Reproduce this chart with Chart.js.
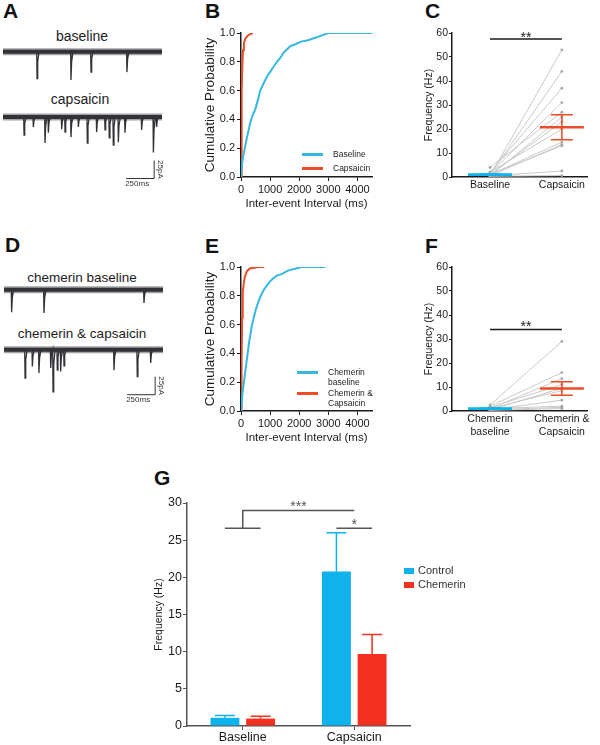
<!DOCTYPE html>
<html>
<head>
<meta charset="utf-8">
<script src="https://cdn.jsdelivr.net/npm/chart.js@4.4.1/dist/chart.umd.min.js"></script>
<style>
body { margin: 0; background: #fff; font-family: "Liberation Sans", Arial, Helvetica, sans-serif; }
#page { position: relative; width: 600px; height: 745px; overflow: hidden; background: #fff; }
canvas { position: absolute; }
.t { position: absolute; white-space: nowrap; color: #1c1c1c; line-height: 1; }
.lt { position: absolute; font-weight: bold; font-size: 21px; line-height: 1; color: #111; }
.lg { position: absolute; height: 2.5px; width: 21px; }
.sw { position: absolute; width: 10px; height: 6px; }
</style>
</head>
<body>
<div id="page">
  <div class="lt" style="left:3px;top:0px">A</div>
  <div class="lt" style="left:205px;top:0px">B</div>
  <div class="lt" style="left:425px;top:0px">C</div>
  <div class="lt" style="left:5px;top:234px">D</div>
  <div class="lt" style="left:205px;top:235px">E</div>
  <div class="lt" style="left:425px;top:235px">F</div>
  <div class="lt" style="left:154px;top:467px">G</div>

  <div class="t" style="left:82px;top:29px;font-size:14px;transform:translateX(-50%)">baseline</div>
  <div class="t" style="left:80px;top:92px;font-size:14px;transform:translateX(-50%)">capsaicin</div>
  <div class="t" style="left:82px;top:271px;font-size:13.5px;transform:translateX(-50%)">chemerin baseline</div>
  <div class="t" style="left:82px;top:327px;font-size:13.5px;transform:translateX(-50%)">chemerin &amp; capsaicin</div>

  <canvas id="traceA1" width="170" height="47" style="left:3px;top:41px"></canvas>
  <canvas id="traceA2" width="170" height="87" style="left:3px;top:106px"></canvas>
  <canvas id="traceD1" width="170" height="47" style="left:4px;top:279px"></canvas>
  <canvas id="traceD2" width="170" height="76" style="left:4px;top:339px"></canvas>

  <canvas id="chartB" width="182" height="195" style="left:198px;top:20px"></canvas>
  <canvas id="chartE" width="182" height="195" style="left:198px;top:254px"></canvas>
  <canvas id="chartC" width="176" height="175" style="left:419px;top:20px"></canvas>
  <canvas id="chartF" width="176" height="189" style="left:419px;top:254px"></canvas>
  <canvas id="chartG" width="265" height="255" style="left:149px;top:490px"></canvas>

  <div class="lg" style="left:302px;top:153px;background:#35b8e0"></div>
  <div class="t" style="left:333px;top:150px;font-size:8.5px">Baseline</div>
  <div class="lg" style="left:302px;top:167px;background:#ee4c27"></div>
  <div class="t" style="left:333px;top:164px;font-size:8.5px">Capsaicin</div>

  <div class="lg" style="left:297px;top:371px;background:#35b8e0"></div>
  <div class="t" style="left:328px;top:368px;font-size:8.5px">Chemerin</div>
  <div class="t" style="left:328px;top:378px;font-size:8.5px">baseline</div>
  <div class="lg" style="left:297px;top:392px;background:#ee4c27"></div>
  <div class="t" style="left:328px;top:389px;font-size:8.5px">Chemerin &amp;</div>
  <div class="t" style="left:328px;top:399px;font-size:8.5px">Capsaicin</div>

  <div class="sw" style="left:404px;top:568px;background:#0fb2ea"></div>
  <div class="t" style="left:418px;top:565px;font-size:11px;color:#333">Control</div>
  <div class="sw" style="left:404px;top:582px;background:#f4301e"></div>
  <div class="t" style="left:418px;top:579px;font-size:11px;color:#333">Chemerin</div>
</div>
<script>
// traces: event time (ms) and amplitude (pA)
const traceEnd = 1420
const baseEventsT = [304, 607, 786, 1107]
const baseEventsAmp = [37, 39, 28, 28]
const capEventsT = [188, 271, 375, 405, 524, 554, 607, 673, 753, 836, 911, 949, 985, 1030, 1089, 1238, 1343, 1372]
const capEventsAmp = [25, 14, 36, 22, 17, 21, 28, 14, 36, 21, 18, 29, 39, 35, 22, 18, 49, 14]
const chemBaseEventsT = [68, 357, 1250]
const chemBaseEventsAmp = [31, 32, 18]
const chemCapEventsT = [188, 253, 312, 417, 438, 476, 506, 536, 982, 1190, 1310]
const chemCapEventsAmp = [39, 23, 32, 25, 58, 28, 30, 22, 28, 37, 18]

// B / E cumulative probability
const intervalTicks = [0, 1000, 2000, 3000, 4000]
const probTicks = [0, 0.2, 0.4, 0.6, 0.8, 1.0]
const bBaseMs = [0, 40, 80, 150, 200, 310, 400, 490, 560, 660, 800, 900, 1000, 1100, 1200, 1360, 1450, 1550, 1700, 1850, 2060, 2300, 2600, 3000, 3500, 4500]
const bBaseP = [0, 0.1, 0.15, 0.22, 0.27, 0.37, 0.43, 0.47, 0.52, 0.6, 0.66, 0.7, 0.73, 0.76, 0.79, 0.83, 0.86, 0.88, 0.91, 0.92, 0.94, 0.95, 0.97, 1.0, 1.0, 1.0]
const bCapMs = [0, 15, 30, 50, 70, 100, 150, 220, 300, 400]
const bCapP = [0, 0.3, 0.6, 0.8, 0.88, 0.93, 0.96, 0.98, 0.99, 1.0]
const eBaseMs = [0, 50, 100, 195, 280, 370, 500, 655, 780, 885, 1000, 1100, 1230, 1400, 1560, 1690, 1900, 2060, 2300, 2900]
const eBaseP = [0, 0.12, 0.2, 0.35, 0.48, 0.59, 0.7, 0.79, 0.84, 0.87, 0.9, 0.92, 0.94, 0.95, 0.97, 0.98, 0.99, 1.0, 1.0, 1.0]
const eCapMs = [0, 20, 40, 60, 90, 130, 200, 300, 450, 600, 800]
const eCapP = [0, 0.35, 0.65, 0.82, 0.88, 0.93, 0.97, 0.99, 0.995, 1.0, 1.0]

// C / F paired frequencies (Hz)
const freqTicks = [0, 10, 20, 30, 40, 50, 60]
const cCats = ['Baseline', 'Capsaicin']
const cBase = [0.5, 1, 2, 1.5, 4, 0.5, 1, 2, 1, 0.5, 1, 0.5, 0.3]
const cCap = [53, 44, 37, 31, 27, 25, 23, 20, 14.5, 13.5, 13, 2.5, 0.6]
const cMean = [1.0, 20.7]
const cSem = [0.3, 5.2]
const fCats = [['Chemerin', 'baseline'], ['Chemerin &', 'Capsaicin']]
const fBase = [2.5, 2, 1, 1.5, 0.5, 1, 0.5, 1, 0.5, 0.3]
const fCap = [29, 16, 13.5, 11, 9.5, 8.5, 4.5, 2, 1.5, 1]
const fMean = [1.0, 9.4]
const fSem = [0.3, 2.8]

// G means and SEM (Hz)
const gCats = ['Baseline', 'Capsaicin']
const gControl = [1.1, 20.8]
const gControlErr = [0.3, 5.2]
const gChemerin = [1.0, 9.7]
const gChemerinErr = [0.3, 2.6]
const gTicks = [0, 5, 10, 15, 20, 25, 30]

const ink = '#1a1a1a'
const traceInk = '#303236'
const blue = '#35b8e0'
const red = '#ee4c27'
const gBlue = '#0fb2ea'
const gRed = '#f4301e'

Chart.defaults.font.family = '"Liberation Sans", Arial, Helvetica, sans-serif'
Chart.defaults.color = ink
Chart.defaults.animation = false
Chart.defaults.responsive = false
Chart.defaults.devicePixelRatio = 1
Chart.defaults.plugins.legend.display = false
Chart.defaults.plugins.tooltip.enabled = false

const tickList = list => s => { s.ticks = list.map(v => ({value: v})) }
const fixWidth = w => s => { s.width = w }
const fixHeight = h => s => { s.height = h }

// spike shape for each event: fast rise, slower decay
function tracePoints(ts, amps) {
    const pts = [{x: 0, y: 0}]
    ts.forEach((t, i) => {
        pts.push({x: t - 3, y: 0}, {x: t, y: -amps[i]}, {x: t + 6, y: -amps[i] * 0.35}, {x: t + 18, y: 0})
    })
    pts.push({x: traceEnd, y: 0})
    return pts
}

const scaleBarPlugin = {
    id: 'scaleBar',
    afterDatasetsDraw(chart, args, o) {
        if (!o.show) return
        const {ctx, scales: {x, y}} = chart
        const xr = x.getPixelForValue(o.t), xl = x.getPixelForValue(o.t - o.ms)
        const yb = y.getPixelForValue(o.base), yt = y.getPixelForValue(o.base + o.pa)
        ctx.save()
        ctx.strokeStyle = '#333'
        ctx.lineWidth = 1
        ctx.beginPath()
        ctx.moveTo(xl, yb); ctx.lineTo(xr, yb); ctx.lineTo(xr, yt)
        ctx.stroke()
        ctx.fillStyle = '#333'
        ctx.font = '8px "Liberation Sans", Arial, sans-serif'
        ctx.textAlign = 'center'
        ctx.textBaseline = 'top'
        ctx.fillText(o.ms + 'ms', (xl + xr) / 2 - 3, yb + 1)
        ctx.translate(xr + 2, (yb + yt) / 2)
        ctx.rotate(Math.PI / 2)
        ctx.textBaseline = 'bottom'
        ctx.fillText(o.pa + 'pA', 0, 0)
        ctx.restore()
    }
}

function traceChart(id, ts, amps, yMin, bar) {
    const flat = [{x: 0, y: 0}, {x: traceEnd, y: 0}]
    return new Chart(document.getElementById(id), {
        type: 'line',
        data: {datasets: [
            {data: flat, borderColor: 'rgba(48,50,54,0.45)', borderWidth: 7, pointRadius: 0},
            {data: flat, borderColor: traceInk, borderWidth: 4, pointRadius: 0},
            {data: tracePoints(ts, amps), borderColor: traceInk, borderWidth: 1.3, pointRadius: 0}
        ]},
        options: {
            layout: {padding: {right: 11}},
            scales: {
                x: {type: 'linear', min: 0, max: traceEnd, display: false},
                y: {min: yMin, max: 15, display: false}
            },
            plugins: {scaleBar: bar || {show: false}}
        },
        plugins: [scaleBarPlugin]
    })
}

traceChart('traceA1', baseEventsT, baseEventsAmp, -50)
traceChart('traceA2', capEventsT, capEventsAmp, -105, {show: true, t: 1350, ms: 250, base: -85, pa: 25})
traceChart('traceD1', chemBaseEventsT, chemBaseEventsAmp, -50)
traceChart('traceD2', chemCapEventsT, chemCapEventsAmp, -90, {show: true, t: 1350, ms: 250, base: -62, pa: 25})

function cumChart(id, baseMs, baseP, capMs, capP) {
    return new Chart(document.getElementById(id), {
        type: 'line',
        data: {datasets: [
            {data: baseMs.map((x, i) => ({x, y: baseP[i]})), borderColor: blue, borderWidth: 2, pointRadius: 0},
            {data: capMs.map((x, i) => ({x, y: capP[i]})), borderColor: red, borderWidth: 2, pointRadius: 0}
        ]},
        options: {
            layout: {padding: {top: 13, right: 8}},
            scales: {
                x: {
                    type: 'linear', min: 0, max: 4500,
                    afterBuildTicks: tickList(intervalTicks), afterFit: fixHeight(38),
                    grid: {drawOnChartArea: false, tickLength: 4, color: ink},
                    border: {color: ink, width: 1.5},
                    ticks: {font: {size: 11}, padding: 2, maxRotation: 0, color: ink, callback: v => String(v)},
                    title: {display: true, text: 'Inter-event Interval (ms)', font: {size: 11.5}, color: ink, padding: {top: 0, bottom: 4}}
                },
                y: {
                    min: 0, max: 1,
                    afterBuildTicks: tickList(probTicks), afterFit: fixWidth(43),
                    grid: {drawOnChartArea: false, tickLength: 4, color: ink},
                    border: {color: ink, width: 1.5},
                    ticks: {font: {size: 11}, padding: 2, color: ink, callback: v => v.toFixed(1)},
                    title: {display: true, text: 'Cumulative Probability', font: {size: 13.5}, color: ink, padding: {top: 4, bottom: 0}}
                }
            }
        }
    })
}

cumChart('chartB', bBaseMs, bBaseP, bCapMs, bCapP)
cumChart('chartE', eBaseMs, eBaseP, eCapMs, eCapP)

const meanSemPlugin = {
    id: 'meanSem',
    afterDatasetsDraw(chart, args, o) {
        const {ctx, scales: {x, y}} = chart
        ctx.save()
        o.means.forEach((m, i) => {
            const cx = x.getPixelForValue(i)
            const ym = y.getPixelForValue(m)
            const yl = y.getPixelForValue(m - o.sems[i]), yh = y.getPixelForValue(m + o.sems[i])
            ctx.strokeStyle = o.colors[i]
            ctx.lineWidth = 1.5
            ctx.beginPath()
            ctx.moveTo(cx, yl); ctx.lineTo(cx, yh)
            ctx.moveTo(cx - 11, yl); ctx.lineTo(cx + 11, yl)
            ctx.moveTo(cx - 11, yh); ctx.lineTo(cx + 11, yh)
            ctx.stroke()
            ctx.lineWidth = 2.6
            ctx.beginPath()
            ctx.moveTo(cx - 22, ym); ctx.lineTo(cx + 22, ym)
            ctx.stroke()
        })
        // significance line
        const s = o.sig
        const x0 = x.getPixelForValue(s.from), x1 = x.getPixelForValue(s.to), ys = y.getPixelForValue(s.y)
        ctx.strokeStyle = ink
        ctx.lineWidth = 1.5
        ctx.beginPath()
        ctx.moveTo(x0, ys); ctx.lineTo(x1, ys)
        ctx.stroke()
        ctx.fillStyle = ink
        ctx.font = '14px "Liberation Sans", Arial, sans-serif'
        ctx.textAlign = 'center'
        ctx.textBaseline = 'alphabetic'
        ctx.fillText(s.text, (x0 + x1) / 2, ys + s.lift)
        ctx.restore()
    }
}

function pairedChart(id, cats, base, cap, mean, sem, sig, xHeight) {
    return new Chart(document.getElementById(id), {
        type: 'line',
        data: {datasets: base.map((b, i) => ({
            data: [{x: 0, y: b}, {x: 1, y: cap[i]}],
            borderColor: '#c9c9c9', borderWidth: 1,
            pointRadius: 1.4, pointBackgroundColor: '#a8a8a8', pointBorderWidth: 0
        }))},
        options: {
            layout: {padding: {top: 13, right: 8}},
            scales: {
                x: {
                    type: 'linear', min: -0.53, max: 1.35,
                    afterBuildTicks: tickList([0, 1]), afterFit: fixHeight(xHeight),
                    grid: {display: false, drawTicks: false, tickLength: 0},
                    border: {color: ink, width: 1.5},
                    ticks: {font: {size: 10.5}, padding: 2, maxRotation: 0, color: ink, callback: v => cats[v]}
                },
                y: {
                    min: 0, max: 60,
                    afterBuildTicks: tickList(freqTicks), afterFit: fixWidth(33),
                    grid: {drawOnChartArea: false, tickLength: 3, color: ink},
                    border: {color: ink, width: 1.5},
                    ticks: {font: {size: 10.5}, padding: 1, color: ink},
                    title: {display: true, text: 'Frequency (Hz)', font: {size: 10.5}, color: ink, padding: {top: 4, bottom: 0}}
                }
            },
            plugins: {meanSem: {means: mean, sems: sem, colors: [gBlue, red], sig: sig}}
        },
        plugins: [meanSemPlugin]
    })
}

pairedChart('chartC', cCats, cBase, cCap, cMean, cSem, {from: 0, to: 1, y: 57.5, text: '**', lift: 3}, 18)
pairedChart('chartF', fCats, fBase, fCap, fMean, fSem, {from: 0, to: 1, y: 34, text: '**', lift: 2}, 32)

const errBarPlugin = {
    id: 'errBars',
    afterDatasetsDraw(chart) {
        const {ctx, scales: {y}} = chart
        ctx.save()
        ctx.lineWidth = 1.5
        chart.data.datasets.forEach((ds, d) => {
            const meta = chart.getDatasetMeta(d)
            ctx.strokeStyle = ds.backgroundColor
            meta.data.forEach((bar, i) => {
                const top = y.getPixelForValue(ds.data[i] + ds.err[i])
                ctx.beginPath()
                ctx.moveTo(bar.x, bar.y); ctx.lineTo(bar.x, top)
                ctx.moveTo(bar.x - 10, top); ctx.lineTo(bar.x + 10, top)
                ctx.stroke()
            })
        })
        ctx.restore()
    }
}

const bracketPlugin = {
    id: 'brackets',
    afterDatasetsDraw(chart, args, o) {
        const {ctx, scales: {x, y}} = chart
        const m0 = chart.getDatasetMeta(0).data, m1 = chart.getDatasetMeta(1).data
        const yLow = y.getPixelForValue(o.low), yHigh = y.getPixelForValue(o.high)
        const g0 = x.getPixelForValue(0), g1 = x.getPixelForValue(1)
        ctx.save()
        ctx.strokeStyle = '#555'
        ctx.fillStyle = '#555'
        ctx.lineWidth = 1.5
        ctx.beginPath()
        ctx.moveTo(m0[0].x, yLow); ctx.lineTo(m1[0].x, yLow)
        ctx.moveTo(g0, yLow); ctx.lineTo(g0, yHigh); ctx.lineTo(g1, yHigh)
        ctx.moveTo(m0[1].x, yLow); ctx.lineTo(m1[1].x, yLow)
        ctx.stroke()
        ctx.font = '14px "Liberation Sans", Arial, sans-serif'
        ctx.textAlign = 'center'
        ctx.textBaseline = 'alphabetic'
        ctx.fillText('***', (g0 + g1) / 2, yHigh + 1)
        ctx.fillText('*', (m0[1].x + m1[1].x) / 2, yLow + 1)
        ctx.restore()
    }
}

new Chart(document.getElementById('chartG'), {
    type: 'bar',
    data: {
        labels: gCats,
        datasets: [
            {label: 'Control', data: gControl, err: gControlErr, backgroundColor: gBlue, categoryPercentage: 0.64, barPercentage: 0.81},
            {label: 'Chemerin', data: gChemerin, err: gChemerinErr, backgroundColor: gRed, categoryPercentage: 0.64, barPercentage: 0.81}
        ]
    },
    options: {
        layout: {padding: {top: 13, right: 4}},
        scales: {
            x: {
                afterFit: fixHeight(19),
                grid: {drawOnChartArea: false, offset: false, tickLength: 4, color: '#555'},
                border: {color: '#555', width: 1.5},
                ticks: {font: {size: 12.5}, padding: 0, color: ink}
            },
            y: {
                min: 0, max: 30,
                afterBuildTicks: tickList(gTicks), afterFit: fixWidth(38),
                grid: {drawOnChartArea: false, tickLength: 4, color: '#555'},
                border: {color: '#555', width: 1.5},
                ticks: {font: {size: 12.5}, padding: 1, color: ink},
                title: {display: true, text: 'Frequency (Hz)', font: {size: 10.5}, color: ink, padding: {top: 4, bottom: 0}}
            }
        },
        plugins: {brackets: {low: 26.6, high: 29}}
    },
    plugins: [errBarPlugin, bracketPlugin]
})
</script>
</body>
</html>
